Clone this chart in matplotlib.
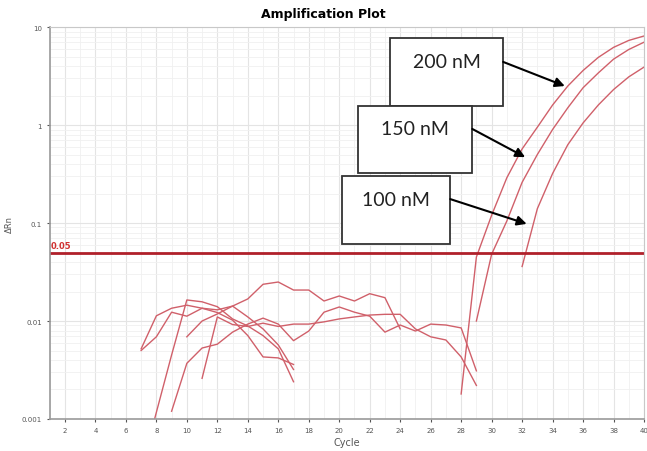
import matplotlib.pyplot as plt
from matplotlib.ticker import FixedLocator, NullFormatter, LogLocator

# baseline (noise) segments: start cycle, values per cycle
noise_a_start = 7
noise_a = [0.0052, 0.0113, 0.0135, 0.0145, 0.0135, 0.0122, 0.0102, 0.0071, 0.0043, 0.0042, 0.0036]
noise_b_start = 7
noise_b = [0.0050, 0.0069, 0.0123, 0.0112, 0.0135, 0.0130, 0.0142, 0.0110, 0.0083, 0.0057, 0.0032]
noise_c_start = 7
noise_c = [0.0003, 0.00117, 0.0045, 0.0164, 0.0157, 0.0140, 0.0105, 0.0089, 0.0071, 0.0052, 0.0024]
noise_d_start = 9
noise_d = [0.0012, 0.0037, 0.0053, 0.0058, 0.0077, 0.0093, 0.0107, 0.0093, 0.0063, 0.0079, 0.0123,
           0.0139, 0.0123, 0.0112, 0.0077, 0.0091, 0.0079, 0.0093, 0.0091, 0.0085, 0.0031]
noise_e_start = 11
noise_e = [0.0026, 0.0110, 0.0092, 0.0088, 0.0095, 0.0088, 0.0093, 0.0093, 0.0098, 0.0105, 0.0110,
           0.0115, 0.0117, 0.0117, 0.0083, 0.0069, 0.0064, 0.0043, 0.0022]
noise_f_start = 10
noise_f = [0.0069, 0.0100, 0.0118, 0.0142, 0.0168, 0.0237, 0.0250, 0.0207, 0.0207, 0.0160, 0.0180,
           0.0160, 0.0190, 0.0173, 0.0083]

# amplification curves
amp_200_start = 28
amp_200 = [0.0018, 0.045, 0.12, 0.29, 0.57, 0.95, 1.6, 2.5, 3.6, 4.9, 6.2, 7.3, 8.1]
amp_150_start = 29
amp_150 = [0.010, 0.048, 0.105, 0.26, 0.50, 0.90, 1.5, 2.4, 3.4, 4.7, 5.9, 7.0]
amp_100_start = 32
amp_100 = [0.036, 0.14, 0.32, 0.63, 1.05, 1.6, 2.3, 3.1, 3.9]

threshold = 0.05
labels = ["200 nM", "150 nM", "100 nM"]
arrow_tips = [(34.8, 2.5), (32.2, 0.47), (32.3, 0.098)]

line_col = "#d0606a"

fig = plt.figure(figsize=(6.47, 4.52), dpi=100)
ax = fig.add_axes([0.0768, 0.0708, 0.9186, 0.8672])

segments = [(noise_a_start, noise_a), (noise_b_start, noise_b), (noise_c_start, noise_c),
            (noise_d_start, noise_d), (noise_e_start, noise_e), (noise_f_start, noise_f),
            (amp_200_start, amp_200), (amp_150_start, amp_150), (amp_100_start, amp_100)]
for start, vals in segments:
    cyc = list(range(start, start + len(vals)))
    ax.plot(cyc, vals, color=line_col, lw=1.0)

ax.axhline(threshold, color="#b0202a", lw=2.0)
ax.text(1.05, threshold * 1.06, "0.05", color="#d03030", fontsize=6, fontweight="bold",
        va="bottom", ha="left")

ax.set_yscale("log")
ax.set_ylim(0.001, 10)
ax.set_xlim(1, 40)
ax.set_yticks([0.001, 0.01, 0.1, 1, 10])
ax.set_yticklabels(["0.001", "0.01", "0.1", "1", "10"])
ax.yaxis.set_minor_locator(LogLocator(base=10, subs=range(2, 10)))
ax.yaxis.set_minor_formatter(NullFormatter())
ax.set_xticks(range(2, 41, 2))
ax.xaxis.set_minor_locator(FixedLocator(range(1, 41)))
ax.tick_params(axis="both", which="major", labelsize=5, colors="#555555", length=2)
ax.tick_params(axis="both", which="minor", length=0)
ax.grid(which="major", color="#e4e4e4", lw=0.8)
ax.grid(which="minor", color="#f0f0f0", lw=0.6)
ax.set_axisbelow(True)
for s in ax.spines.values():
    s.set_color("#c8c8c8")
ax.spines["left"].set_color("#9a9a9a")
ax.spines["bottom"].set_color("#9a9a9a")
ax.spines["left"].set_linewidth(1.2)
ax.spines["bottom"].set_linewidth(1.2)

ax.set_xlabel("Cycle", fontsize=7, color="#555555", labelpad=3)
ax.set_ylabel("ΔRn", fontsize=6, color="#555555", labelpad=6)
fig.text(0.5, 0.968, "Amplification Plot", ha="center", va="center", fontsize=9, fontweight="bold")

# annotation boxes (axes fraction): left, bottom, width, height, text y
boxes = [(0.573, 0.798, 0.190, 0.174, 0.911),
         (0.519, 0.628, 0.192, 0.171, 0.740),
         (0.492, 0.446, 0.182, 0.174, 0.561)]
for (bx, by, bw, bh, ty), lab, tip in zip(boxes, labels, arrow_tips):
    ax.add_patch(plt.Rectangle((bx, by), bw, bh, transform=ax.transAxes, fill=True,
                               facecolor="white", edgecolor="#333333", lw=1.3, zorder=5))
    ax.text(bx + bw / 2, ty, lab, transform=ax.transAxes, ha="center", va="center",
            fontsize=14, family="Lato", color="#222222", zorder=6)
    ax.annotate("", xy=tip, xycoords="data", xytext=(bx + bw, ty), textcoords="axes fraction",
                arrowprops=dict(arrowstyle="-|>", color="black", lw=1.5,
                                mutation_scale=14, shrinkA=0, shrinkB=0), zorder=6)

fig.savefig("out.png", dpi=100)
